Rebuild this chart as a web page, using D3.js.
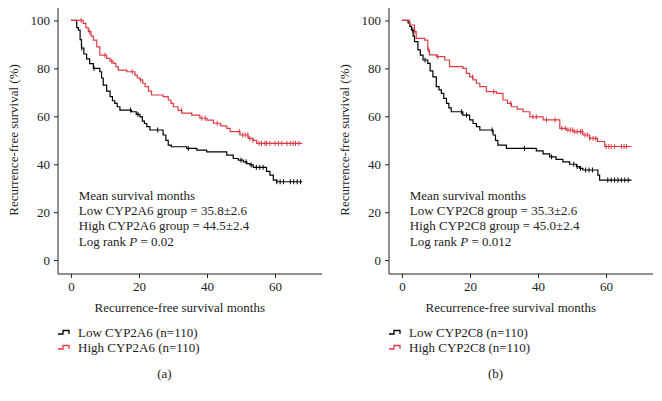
<!DOCTYPE html>
<html><head><meta charset="utf-8">
<script src="https://cdn.jsdelivr.net/npm/d3@7"></script>
<style>body{margin:0;background:#fff;} text{font-family:"Liberation Serif","DejaVu Serif",serif;}</style>
</head><body><svg id="c" width="662" height="401"></svg>
<script>
// ---- data ----
const yTicks = [0, 20, 40, 60, 80, 100];
const xTicks = [0, 20, 40, 60];
// Panel (a): step points [month, survival %]
const lowA = [[0,100],[1.7,97],[2.2,96],[2.7,92],[3.1,88.5],[3.8,86],[4.6,84],[5.5,82],[6.6,80],[8.5,78.6],[9,76],[9.5,73],[10.5,70.5],[11.5,68.2],[12.2,66.5],[12.9,65.4],[13.6,64],[14.4,62.6],[17.8,61.9],[19.2,60.8],[20.3,59.8],[21,58],[21.6,57],[22.3,55.7],[23.2,54.3],[27.1,52.2],[27.9,50],[28.6,48],[29.5,47.3],[34,46.6],[37,45.9],[39.9,45.2],[45.8,43.8],[47.7,42.4],[49.2,41.7],[50.7,41],[51.7,40.3],[52.6,39.7],[53.6,38.7],[57.5,37],[58.5,35.5],[59.5,33.4],[60.5,32.7],[68,32.7]];
const highA = [[0,100],[2.6,100],[3.6,98.8],[4.4,97],[5.1,95.3],[5.9,93.5],[6.6,91.8],[7.6,89],[8.5,85.5],[10.5,84.2],[11.5,83],[12.4,82.1],[13.2,80.7],[13.9,79.3],[16.4,78.6],[18.8,77.2],[19.5,76],[20.3,75.2],[21.1,73.8],[21.8,72.4],[22.8,70.5],[23.7,68.9],[27.1,68.2],[28.6,66.8],[29.4,65.4],[30.1,64],[31.5,62.5],[32.6,61.3],[35.5,60.5],[37.9,59.2],[40,58.4],[41.9,57.1],[44,56],[45.8,55],[46.8,53.6],[49.7,52.2],[52.1,50.8],[53.5,50],[54.6,48.7],[68,48.7]];
const lowACens = [3.2,6.8,17.5,19.7,25.5,34.5,50,51.5,53,54.5,55.5,56.5,60.5,61.5,62.5,64.5,65.5,66.5,67.5];
const highACens = [3,5.5,10,12,18,20.5,32.5,38.5,39.5,43,49.5,50.5,51.2,52,52.6,53.5,55.3,56,57,57.5,58.5,60,61,62,63.5,64.5,65.3,66,67];
// Panel (b)
const lowB = [[0,100],[1.8,99],[2.3,97.5],[2.8,96],[3.3,93.5],[3.7,91.2],[4.7,87.7],[5.4,85.5],[6.2,83.5],[7.6,82.1],[8.3,79],[9.1,76.5],[10.1,72.4],[10.9,71],[11.6,69.6],[12.3,67.5],[13.1,65.4],[13.8,63.5],[14.5,61.9],[17.9,60.5],[19.9,58.5],[20.9,57],[21.9,55.7],[22.9,54.3],[26.8,52.2],[27.5,50],[28.2,48],[30.7,46.6],[39.5,45.6],[41.5,44.3],[43.4,43.1],[45.3,42],[47.3,41],[49.3,40],[51.3,39],[52.2,38.3],[53.2,37.6],[57.6,35.5],[58.1,33.4],[67.5,33.4]];
const highB = [[0,100],[1.8,100],[2.3,98.1],[3.7,95.3],[4.2,92.5],[6.7,91.8],[7.6,87.7],[8.1,85.6],[10.1,84.9],[12.6,83.5],[14,80.7],[17.9,80],[18.9,77.9],[19.9,76.5],[20.9,75.2],[21.9,73.8],[22.9,72.4],[24.8,70.3],[27.8,69.6],[29.7,66.8],[31,65.4],[32.2,64],[33.9,63],[35.6,61.9],[37.6,59.8],[41.5,58.5],[45.9,58.5],[46.4,55],[48.3,54.3],[50.3,53.6],[53.2,52.2],[55.2,50.8],[57.5,49.5],[59.6,47.4],[67.5,47.4]];
const lowBCens = [3.2,6.8,17.5,19,26.5,36,44,50.5,51.5,52.5,54,55,56,60.5,61.5,62.5,63.5,64.5,65.5,66.5];
const highBCens = [3.8,7.8,10.5,20.8,27,32,38.5,39.5,42.5,45,47,48,48.8,49.5,50.2,50.8,51.5,52.5,53,53.8,54.5,55.2,56.2,57,60,60.8,61.5,62.5,64.5,65.3,66];
const panels = [
  {tag:"(a)", gene:"CYP2A6", low:lowA, high:highA, lowC:lowACens, highC:highACens, lowMean:"35.8±2.6", highMean:"44.5±2.4", p:"0.02", x0:58, x1:322},
  {tag:"(b)", gene:"CYP2C8", low:lowB, high:highB, lowC:lowBCens, highC:highBCens, lowMean:"35.3±2.6", highMean:"45.0±2.4", p:"0.012", x0:389, x1:653}
];
const RED = "#dc3b46", AX = "#222";
const svg = d3.select("#c");

function stepAt(curve, t){ let s = curve[0][1]; for (const p of curve){ if (p[0] <= t) s = p[1]; } return s; }

panels.forEach(P => {
  const g = svg.append("g");
  const x = d3.scaleLinear().domain([-3.8, 73.8]).range([P.x0, P.x1]);
  const y = d3.scaleLinear().domain([-5.8, 105.2]).range([274, 8]);
  // axes
  const ya = g.append("g").attr("transform", `translate(${P.x0},0)`)
    .call(d3.axisLeft(y).tickValues(yTicks).tickSize(4).tickPadding(4));
  ya.select(".domain").attr("d", `M0,${y(105.2)}V${y(-5.8)}`);
  const xa = g.append("g").attr("transform", `translate(0,274)`)
    .call(d3.axisBottom(x).tickValues(xTicks).tickSize(4).tickPadding(4));
  xa.select(".domain").attr("d", `M${P.x0},0H${P.x1}`);
  [ya, xa].forEach(a => {
    a.selectAll("path,line").attr("stroke", AX).attr("stroke-width", 1);
    a.selectAll("text").attr("font-family", "Liberation Serif").attr("font-size", 13).attr("fill", "#222");
  });
  // labels
  g.append("text").attr("x", x(32)).attr("y", 312).attr("text-anchor", "middle")
    .attr("font-size", 13).attr("fill", "#222").text("Recurrence-free survival months");
  g.append("text").attr("transform", `translate(${P.x0 - 40},140) rotate(-90)`).attr("text-anchor", "middle")
    .attr("font-size", 13).attr("fill", "#222").text("Recurrence-free survival (%)");
  // curves
  const line = d3.line().x(d => x(d[0])).y(d => y(d[1])).curve(d3.curveStepAfter);
  [[P.low, P.lowC, "#000"], [P.high, P.highC, RED]].forEach(([cur, cens, col]) => {
    g.append("path").datum(cur).attr("d", line).attr("fill", "none").attr("stroke", col).attr("stroke-width", 1.2);
    g.selectAll(null).data(cens).enter().append("line")
      .attr("x1", d => x(d)).attr("x2", d => x(d))
      .attr("y1", d => y(stepAt(cur, d)) - 2.5).attr("y2", d => y(stepAt(cur, d)) + 2.5)
      .attr("stroke", col).attr("stroke-width", 1);
  });
  // annotation
  const tx = x(2.3);
  const lines = ["Mean survival months", `Low ${P.gene} group = ${P.lowMean}`, `High ${P.gene} group = ${P.highMean}`];
  lines.forEach((s, i) => g.append("text").attr("x", tx).attr("y", 200 + i * 15.2).attr("font-size", 13).attr("fill", "#222").text(s));
  const lr = g.append("text").attr("x", tx).attr("y", 200 + 3 * 15.2).attr("font-size", 13).attr("fill", "#222");
  lr.append("tspan").text("Log rank ");
  lr.append("tspan").attr("font-style", "italic").text("P");
  lr.append("tspan").text(" = " + P.p);
  // legend
  [["Low " + P.gene + " (n=110)", "#000", 337], ["High " + P.gene + " (n=110)", RED, 352]].forEach(([s, col, yy]) => {
    const ly = yy - 4.5;
    g.append("path").attr("d", `M${P.x0},${ly + 1.5}H${P.x0 + 5}V${ly - 2}H${P.x0 + 11}V${ly + 1.5}`)
      .attr("fill", "none").attr("stroke", col).attr("stroke-width", 1.3);
    g.append("text").attr("x", P.x0 + 20).attr("y", yy).attr("font-size", 13).attr("fill", "#222").text(s);
  });
  g.append("text").attr("x", x(27.5)).attr("y", 378).attr("text-anchor", "middle").attr("font-size", 13).attr("fill", "#222").text(P.tag);
});
</script></body></html>
